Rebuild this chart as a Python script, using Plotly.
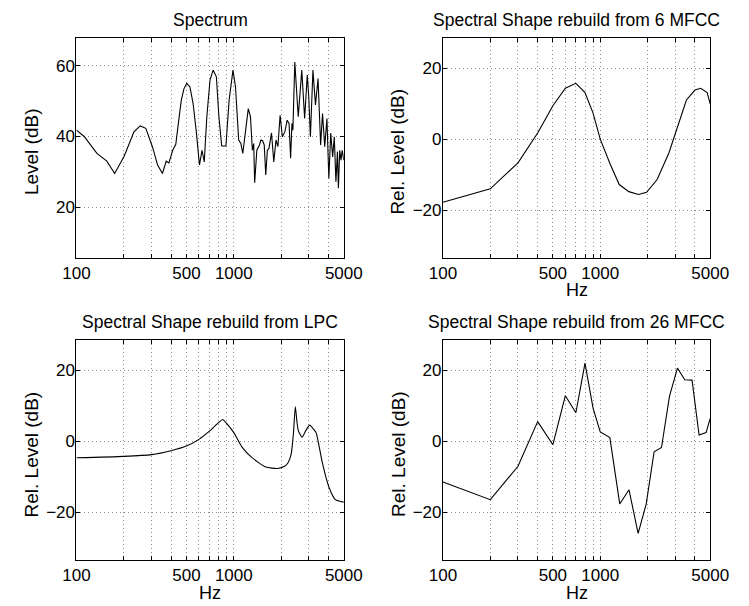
import plotly.graph_objects as go

# ---------------- data ----------------
spec_freq = [100, 112, 135, 156, 175, 201, 232, 254, 276, 304, 328, 352, 372, 387,
             409, 428, 443, 464, 482, 502, 526, 551, 578, 605, 628, 649, 674, 706, 739,
             775, 804, 838, 891, 934, 988, 1025, 1074, 1109, 1141, 1196, 1236, 1276,
             1312, 1338, 1357, 1401, 1455, 1488, 1524, 1561, 1596, 1634, 1673, 1736,
             1795, 1854, 1906, 1969, 2035, 2110, 2183, 2245, 2296, 2341, 2374, 2441,
             2567, 2704, 2820, 2929, 2995, 3067, 3184, 3303, 3430, 3562, 3663, 3783,
             3906, 4017, 4130, 4248, 4350, 4455, 4556, 4619, 4711, 4797, 4885, 5000]
spec_db = [41.8, 40.0, 35.2, 33.0, 29.5, 34.4, 41.3, 43.0, 42.3, 37.1, 31.9, 29.5, 33.0, 32.5,
           36.1, 37.8, 43.2, 50.3, 53.5, 55.0, 54.1, 49.4, 41.3, 31.9, 36.1, 32.8, 45.6, 56.0, 58.8,
           56.9, 45.6, 37.3, 37.3, 50.3, 58.8, 54.1, 39.0, 38.0, 35.2, 43.7, 47.9, 45.6,
           36.1, 38.0, 26.9, 36.1, 37.6, 39.0, 38.8, 37.6, 29.1, 36.1, 36.6, 41.0,
           32.8, 39.0, 37.1, 46.0, 39.9, 41.3, 44.6, 43.7, 33.8, 43.7, 41.8, 61.1,
           45.6, 58.8, 45.1, 57.4, 51.2, 39.9, 58.8, 48.9, 56.4, 37.6, 46.5, 37.1,
           45.1, 28.1, 41.0, 34.2, 39.9, 27.2, 35.7, 25.3, 36.1, 33.3, 36.1, 33.3]

mfcc6_freq = [100, 200, 300, 400, 500, 600, 700, 800, 900, 1000, 1150, 1320, 1520,
              1750, 1970, 2300, 2730, 3140, 3530, 4000, 4350, 4780, 5000]
mfcc6_db = [-17.8, -14.0, -6.7, 1.7, 9.4, 14.3, 15.7, 13.1, 7.3, 0.0, -6.8, -12.8, -14.8,
            -15.6, -15.0, -11.4, -3.9, 4.5, 11.0, 13.8, 14.3, 13.1, 9.9]

lpc_freq = [100, 200, 300, 400, 500, 600, 700, 800, 850, 900, 1000, 1125, 1300, 1596,
            1900, 2100, 2212, 2316, 2393, 2460, 2520, 2573, 2715, 2879, 3037, 3180, 3332,
            3458, 3662, 4025, 4420, 5000]
lpc_db = [-4.6, -4.2, -3.7, -2.6, -1.3, 0.6, 2.9, 5.3, 6.2, 5.1, 2.5, -1.5, -4.5, -7.2,
          -7.6, -7.0, -6.0, -3.5, 2.3, 9.8, 5.5, 3.0, 1.2, 3.2, 4.6, 3.7, 2.5,
          -0.6, -6.2, -12.9, -16.4, -17.1]

mfcc26_freq = [100, 200, 300, 400, 500, 600, 700, 800, 900, 1000, 1151, 1330, 1523,
               1741, 1960, 2200, 2451, 2754, 3094, 3444, 3833, 4248, 4707, 5000]
mfcc26_db = [-11.4, -16.4, -7.0, 5.6, -0.9, 12.9, 8.1, 22.1, 9.4, 2.7, 1.1, -17.6, -13.6,
             -25.9, -17.6, -2.9, -1.7, 12.7, 20.7, 17.4, 17.3, 1.8, 2.5, 6.5]

x_tickvals = [100, 200, 300, 400, 500, 600, 700, 800, 900, 1000, 2000, 3000, 4000, 5000]
x_ticktext = ["100", "", "", "", "500", "", "", "", "", "1000", "", "", "", "5000"]

titles = ["Spectrum", "Spectral Shape rebuild from 6 MFCC",
          "Spectral Shape rebuild from LPC", "Spectral Shape rebuild from 26 MFCC"]

# ---------------- figure ----------------
W, H = 749, 606
FONT = "Liberation Sans, Arial, Helvetica, sans-serif"

# pixel boxes (left, right, top, bottom)
boxes = [(65.3, 345.0, 37.5, 257.7), (448.7, 728.3, 37.5, 257.7),
         (65.3, 345.0, 340.0, 560.0), (448.7, 728.3, 340.0, 560.0)]
yranges = [[5.65, 68.04], [-33.4, 28.6], [-33.4, 28.6], [-33.4, 28.6]]
ytickvals = [[20, 40, 60], [-20, 0, 20], [-20, 0, 20], [-20, 0, 20]]
series = [(spec_freq, spec_db), (mfcc6_freq, mfcc6_db),
          (lpc_freq, lpc_db), (mfcc26_freq, mfcc26_db)]
shapes_ = ["linear", "linear", "spline", "linear"]

fig = go.Figure()
layout = dict(width=W, height=H, margin=dict(l=0, r=0, t=0, b=0),
              paper_bgcolor="white", plot_bgcolor="white", showlegend=False,
              font=dict(family=FONT, size=17, color="black"))
annotations = []

for i, ((fx, fy), (l, r, t, b)) in enumerate(zip(series, boxes)):
    n = "" if i == 0 else str(i + 1)
    line = dict(color="black", width=1.1, shape=shapes_[i])
    if shapes_[i] == "spline":
        line["smoothing"] = 0.6
    fig.add_trace(go.Scatter(x=fx, y=fy, mode="lines", line=line,
                             xaxis="x" + n, yaxis="y" + n, hoverinfo="skip"))
    common = dict(showline=True, linecolor="black", linewidth=1, mirror="allticks",
                  ticks="inside", ticklen=4, tickcolor="black", tickwidth=1,
                  showgrid=True, gridcolor="#8a8a8a", gridwidth=1, griddash="1px,3px",
                  zeroline=False, tickfont=dict(family=FONT, size=17, color="black"))
    layout["xaxis" + n] = dict(type="log", range=[2, 3.69897],
                               domain=[l / W, r / W], anchor="y" + n,
                               tickmode="array", tickvals=x_tickvals, ticktext=x_ticktext,
                               ticklabelstandoff=0, **common)
    layout["yaxis" + n] = dict(range=yranges[i], domain=[1 - b / H, 1 - t / H],
                               anchor="x" + n, tickmode="array", tickvals=ytickvals[i],
                               ticklabelstandoff=-3, **common)
    # title
    annotations.append(dict(text=titles[i], x=(l + r) / 2 / W, y=1 - (t - 18) / H,
                            xref="paper", yref="paper", xanchor="center", yanchor="middle",
                            showarrow=False, font=dict(family=FONT, size=17.5)))
    # y label
    annotations.append(dict(text="Level (dB)" if i == 0 else "Rel. Level (dB)",
                            x=(l - 47) / W, y=1 - ((t + b) / 2 + 4) / H, textangle=-90,
                            xref="paper", yref="paper", xanchor="center", yanchor="middle",
                            showarrow=False, font=dict(family=FONT, size=19)))
    # x label
    if i > 0:
        annotations.append(dict(text="Hz", x=(l + r) / 2 / W, y=1 - (b + 32.5) / H,
                                xref="paper", yref="paper", xanchor="center",
                                yanchor="middle", showarrow=False,
                                font=dict(family=FONT, size=18)))

layout["annotations"] = annotations
fig.update_layout(**layout)
fig.write_html("out.html")
